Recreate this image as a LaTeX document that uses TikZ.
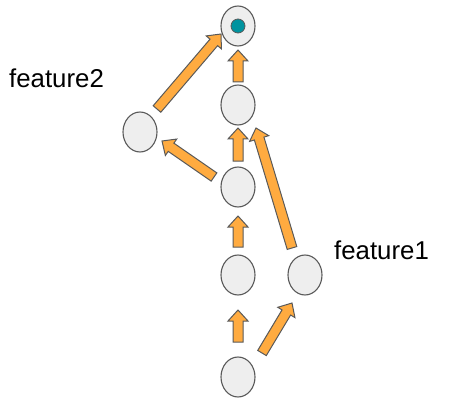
\documentclass[tikz,border=0pt]{standalone}
\usepackage{fontspec}
\setmainfont{Liberation Sans}
\usetikzlibrary{calc,shapes.geometric}
\definecolor{nodefill}{HTML}{EEEEEE}
\definecolor{edgegray}{HTML}{595959}
\definecolor{arroworange}{HTML}{FFAB40}
\definecolor{dotteal}{HTML}{00939F}
\tikzset{
  vnode/.style={ellipse, draw=edgegray, line width=1.1pt, fill=nodefill, minimum width=34pt, minimum height=40pt, inner sep=0pt},
  barr/.style={draw=edgegray, line width=1pt, fill=arroworange, line join=miter},
  lbl/.style={font=\fontsize{25.8}{30}\selectfont, inner sep=0pt, anchor=base west},
}
\newcommand\blockarrow[2]{%
  \draw[barr] let \p1=(#1), \p2=(#2),
    \n1={atan2(\y2-\y1,\x2-\x1)},
    \n2={veclen(\x2-\x1,\y2-\y1)} in
    ($(\p1)+(\n1+90:5pt)$) --
    ($(\p1)+(\n1:{\n2*1pt-11pt})+(\n1+90:5pt)$) --
    ($(\p1)+(\n1:{\n2*1pt-11pt})+(\n1+90:10pt)$) --
    (\p2) --
    ($(\p1)+(\n1:{\n2*1pt-11pt})+(\n1-90:10pt)$) --
    ($(\p1)+(\n1:{\n2*1pt-11pt})+(\n1-90:5pt)$) --
    ($(\p1)+(\n1-90:5pt)$) -- cycle;}
\begin{document}
\begin{tikzpicture}[x=1pt,y=1pt]
\useasboundingbox (0,0) rectangle (461,416);
% nodes
\node[vnode] (top) at (238,390) {};
\node[circle, draw=edgegray, line width=0.8pt, fill=dotteal, minimum size=14pt, inner sep=0pt] (dot) at (top) {};
\node[vnode] (n2) at (238,311) {};
\node[vnode] (left) at (140,284) {};
\node[vnode] (n3) at (238,229) {};
\node[vnode] (n4) at (238,141) {};
\node[vnode] (right) at (305,141) {};
\node[vnode] (bottom) at (238,39) {};
% labels
\node[lbl] (f2) at (9,328) {feature2};
\node[lbl] (f1) at (334,157) {feature1};
% arrow end points
\coordinate (a1s) at (238,334); \coordinate (a1e) at (238,366);
\coordinate (a2s) at (157,307); \coordinate (a2e) at (221,382);
\coordinate (a3s) at (214,239); \coordinate (a3e) at (162,275);
\coordinate (a4s) at (238,255); \coordinate (a4e) at (238,288);
\coordinate (a5s) at (292,168); \coordinate (a5e) at (256,288);
\coordinate (a6s) at (238,169); \coordinate (a6e) at (238,200);
\coordinate (a7s) at (238,74);  \coordinate (a7e) at (238,106);
\coordinate (a8s) at (262,63);  \coordinate (a8e) at (292,113);
\blockarrow{a1s}{a1e}
\blockarrow{a2s}{a2e}
\blockarrow{a3s}{a3e}
\blockarrow{a4s}{a4e}
\blockarrow{a5s}{a5e}
\blockarrow{a6s}{a6e}
\blockarrow{a7s}{a7e}
\blockarrow{a8s}{a8e}
\end{tikzpicture}
\end{document}
